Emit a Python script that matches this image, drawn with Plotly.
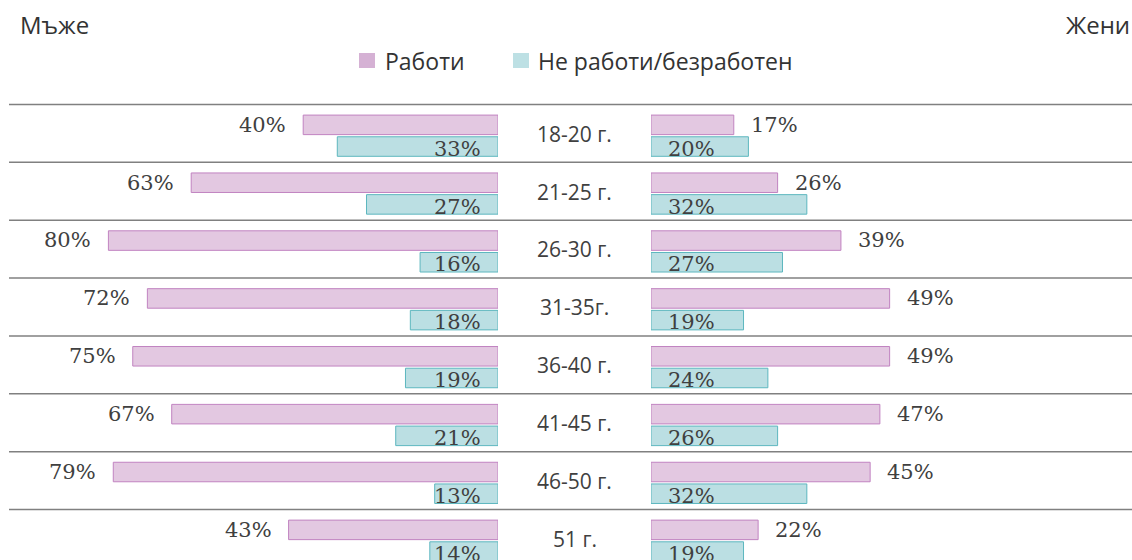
import plotly.graph_objects as go

categories = ["18-20 г.", "21-25 г.", "26-30 г.", "31-35г.", "36-40 г.", "41-45 г.", "46-50 г.", "51 г."]
men_work = [40, 63, 80, 72, 75, 67, 79, 43]
men_nowork = [33, 27, 16, 18, 19, 21, 13, 14]
women_work = [17, 26, 39, 49, 49, 47, 45, 22]
women_nowork = [20, 32, 27, 19, 24, 26, 32, 19]
series_names = ["Работи", "Не работи/безработен"]
panel_titles = ["Мъже", "Жени"]

W, H = 1132, 560


def px(x):
    return x / W


def py(y):
    return 1 - y / H


PX_PER_PCT = 4.87
ROW_PX = 57.86
CENTER0 = 135.7

PINK_FILL = "#e3c8e1"
PINK_LINE = "#c183c1"
PINK_LEG = "#d5b1d4"
TEAL_FILL = "#bbdfe3"
TEAL_LINE = "#5db7bf"
TEAL_LEG = "#bde0e4"
TXT = "#404040"
SANS = "Open Sans, sans-serif"
SERIF = "DejaVu Serif, serif"

fig = go.Figure()

fig.add_trace(go.Bar(y=categories, x=men_work, orientation="h", name=series_names[0],
                     marker=dict(color=PINK_FILL, line=dict(color=PINK_LINE, width=1)),
                     xaxis="x", yaxis="y", showlegend=False, hoverinfo="x+y"))
fig.add_trace(go.Bar(y=categories, x=men_nowork, orientation="h", name=series_names[1],
                     marker=dict(color=TEAL_FILL, line=dict(color=TEAL_LINE, width=1)),
                     xaxis="x", yaxis="y", showlegend=False, hoverinfo="x+y"))
fig.add_trace(go.Bar(y=categories, x=women_work, orientation="h", name=series_names[0],
                     marker=dict(color=PINK_FILL, line=dict(color=PINK_LINE, width=1)),
                     xaxis="x2", yaxis="y", showlegend=False, hoverinfo="x+y"))
fig.add_trace(go.Bar(y=categories, x=women_nowork, orientation="h", name=series_names[1],
                     marker=dict(color=TEAL_FILL, line=dict(color=TEAL_LINE, width=1)),
                     xaxis="x2", yaxis="y", showlegend=False, hoverinfo="x+y"))

annotations = []
lab_font = dict(family=SERIF, size=21, color=TXT)
for i, cat in enumerate(categories):
    annotations.append(dict(x=men_work[i], y=cat, xref="x", yref="y", text=f"{men_work[i]}%",
                            xanchor="right", yanchor="middle", xshift=-15, yshift=11, showarrow=False,
                            font=lab_font))
    annotations.append(dict(x=0, y=cat, xref="x", yref="y", text=f"{men_nowork[i]}%",
                            xanchor="right", yanchor="middle", xshift=-15, yshift=-13, showarrow=False,
                            font=lab_font))
    annotations.append(dict(x=women_work[i], y=cat, xref="x2", yref="y", text=f"{women_work[i]}%",
                            xanchor="left", yanchor="middle", xshift=15, yshift=11, showarrow=False,
                            font=lab_font))
    annotations.append(dict(x=0, y=cat, xref="x2", yref="y", text=f"{women_nowork[i]}%",
                            xanchor="left", yanchor="middle", xshift=15, yshift=-13, showarrow=False,
                            font=lab_font))
    annotations.append(dict(x=px(575), y=cat, xref="paper", yref="y", text=cat,
                            xanchor="center", yanchor="middle", yshift=2, showarrow=False,
                            font=dict(family=SANS, size=21, color=TXT)))

annotations.append(dict(x=px(18), y=py(25), xref="paper", yref="paper", text=panel_titles[0],
                        xanchor="left", yanchor="middle", showarrow=False,
                        font=dict(family=SANS, size=24, color="#333333")))
annotations.append(dict(x=1.0, y=py(25), xref="paper", yref="paper", text=panel_titles[1],
                        xanchor="right", yanchor="middle", showarrow=False,
                        font=dict(family=SANS, size=24, color="#333333")))

# custom legend
shapes = []
leg_items = [(series_names[0], PINK_LEG, 359, 383), (series_names[1], TEAL_LEG, 513, 536)]
for name, col, sx, tx in leg_items:
    shapes.append(dict(type="rect", xref="paper", yref="paper", x0=px(sx), x1=px(sx + 16),
                       y0=py(53), y1=py(68), fillcolor=col, line=dict(width=0)))
    annotations.append(dict(x=px(tx), y=py(61), xref="paper", yref="paper", text=name,
                            xanchor="left", yanchor="middle", showarrow=False,
                            font=dict(family=SANS, size=23, color="#333333")))

for k in range(len(categories)):
    yk = k - 31.2 / ROW_PX
    shapes.append(dict(type="line", xref="paper", yref="y", x0=px(9), x1=1, y0=yk, y1=yk,
                       line=dict(color="#808080", width=1.5)))

y_top = (0 - CENTER0) / ROW_PX
y_bot = (H - CENTER0) / ROW_PX

fig.update_layout(
    width=W, height=H,
    margin=dict(l=0, r=0, t=0, b=0),
    paper_bgcolor="white", plot_bgcolor="white",
    barmode="group", bargap=0.25, bargroupgap=0.1,
    xaxis=dict(domain=[0, px(498)], range=[498 / PX_PER_PCT, 0], visible=False, fixedrange=True),
    xaxis2=dict(domain=[px(651), 1], range=[0, (W - 651) / PX_PER_PCT], visible=False, fixedrange=True),
    yaxis=dict(range=[y_bot, y_top], visible=False, type="category", fixedrange=True),
    annotations=annotations,
    shapes=shapes,
    showlegend=False,
)

fig.write_html(
    "out.html",
    config={"displayModeBar": False},
    post_script="document.body.style.margin='0';document.body.style.overflow='hidden';",
)
